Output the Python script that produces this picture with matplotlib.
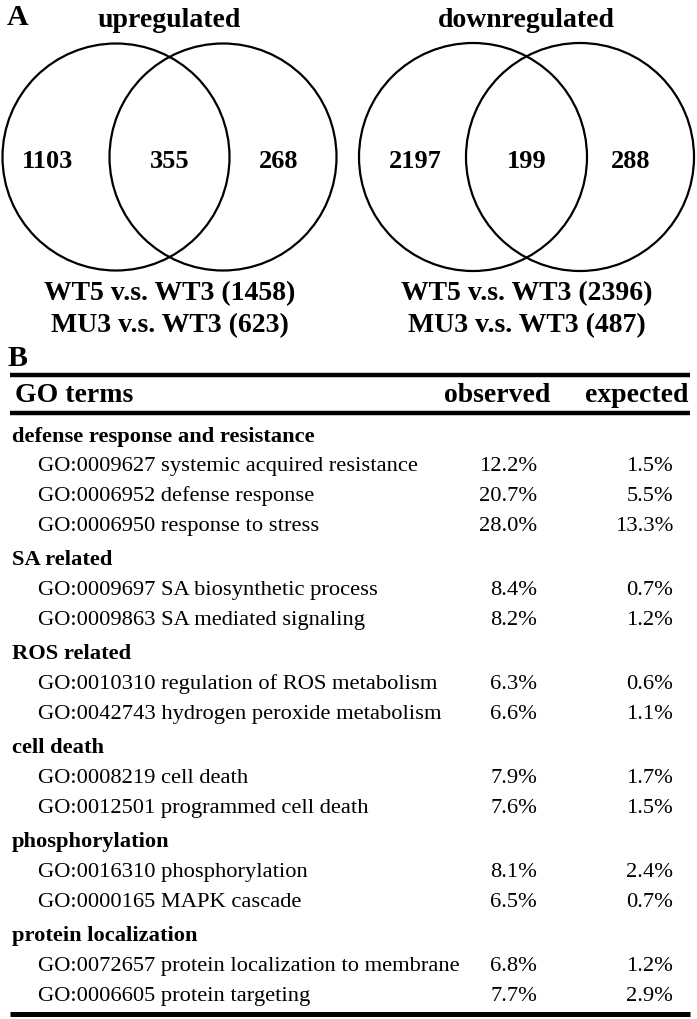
import matplotlib
matplotlib.use("Agg")
import matplotlib.pyplot as plt
from matplotlib.patches import Circle

plt.rcParams['font.family'] = ['Liberation Serif', 'DejaVu Serif']

# --- panel A: venn data ---
venn_titles = ["upregulated", "downregulated"]
venn_counts = [[1103, 355, 268], [2197, 199, 288]]
wt5_totals = [1458, 2396]
mu3_totals = [623, 487]

# --- panel B: GO enrichment table ---
group_names = [
    "defense response and resistance",
    "SA related",
    "ROS related",
    "cell death",
    "phosphorylation",
    "protein localization",
]
group_terms = [
    ["GO:0009627 systemic acquired resistance",
     "GO:0006952 defense response",
     "GO:0006950 response to stress"],
    ["GO:0009697 SA biosynthetic process",
     "GO:0009863 SA mediated signaling"],
    ["GO:0010310 regulation of ROS metabolism",
     "GO:0042743 hydrogen peroxide metabolism"],
    ["GO:0008219 cell death",
     "GO:0012501 programmed cell death"],
    ["GO:0016310 phosphorylation",
     "GO:0000165 MAPK cascade"],
    ["GO:0072657 protein localization to membrane",
     "GO:0006605 protein targeting"],
]
observed = [
    ["12.2%", "20.7%", "28.0%"],
    ["8.4%", "8.2%"],
    ["6.3%", "6.6%"],
    ["7.9%", "7.6%"],
    ["8.1%", "6.5%"],
    ["6.8%", "7.7%"],
]
expected = [
    ["1.5%", "5.5%", "13.3%"],
    ["0.7%", "1.2%"],
    ["0.6%", "1.1%"],
    ["1.7%", "1.5%"],
    ["2.4%", "0.7%"],
    ["1.2%", "2.9%"],
]

W, H = 697, 1019
fig = plt.figure(figsize=(W / 100, H / 100), dpi=100)
ax = fig.add_axes([0, 0, 1, 1])
ax.set_xlim(0, W)
ax.set_ylim(H, 0)
ax.axis("off")

# layout of the two venns (pixel space)
venn_centers = [(116, 223), (473, 580)]
venn_r = [113.5, 114]
venn_cy = 157
num_x = [(48, 170, 279), (415, 527, 631)]

ax.text(7, 25, "A", fontsize=21.5, fontweight="bold", ha="left", va="baseline")
for i in range(2):
    c1, c2 = venn_centers[i]
    for cx in (c1, c2):
        ax.add_patch(Circle((cx, venn_cy), venn_r[i], fill=False, lw=1.6, ec="black"))
    mid = (c1 + c2) / 2
    ax.text(mid, 27, venn_titles[i], fontsize=20, fontweight="bold", ha="center", va="baseline")
    for x, n in zip(num_x[i], venn_counts[i]):
        ax.text(x, 168, str(n), fontsize=19, fontweight="bold", ha="center", va="baseline")
    ax.text(mid, 300, f"WT5 v.s. WT3 ({wt5_totals[i]})", fontsize=20,
            fontweight="bold", ha="center", va="baseline")
    ax.text(mid, 332, f"MU3 v.s. WT3 ({mu3_totals[i]})", fontsize=20,
            fontweight="bold", ha="center", va="baseline")

# table
ax.text(7, 366, "B", fontsize=21.5, fontweight="bold", ha="left", va="baseline")
ax.hlines([375], 10, 690, color="black", lw=3.2)
ax.hlines([413], 10, 690, color="black", lw=3.2)
ax.hlines([1014], 10, 690, color="black", lw=3.6)
ax.text(15, 402, "GO terms", fontsize=20, fontweight="bold", ha="left", va="baseline")
ax.text(550, 402, "observed", fontsize=20, fontweight="bold", ha="right", va="baseline")
ax.text(688, 402, "expected", fontsize=20, fontweight="bold", ha="right", va="baseline")

y = 435
fs = 16.2
for g, name in enumerate(group_names):
    ax.text(12, round(y) + 7, name, fontsize=fs, fontweight="bold", ha="left", va="baseline")
    for t, term in enumerate(group_terms[g]):
        y += 29.5
        yb = round(y) + 7
        ax.text(38, yb, term, fontsize=fs, ha="left", va="baseline")
        ax.text(537, yb, observed[g][t], fontsize=fs, ha="right", va="baseline")
        ax.text(673, yb, expected[g][t], fontsize=fs, ha="right", va="baseline")
    y += 35

fig.savefig("out.png", dpi=100)
